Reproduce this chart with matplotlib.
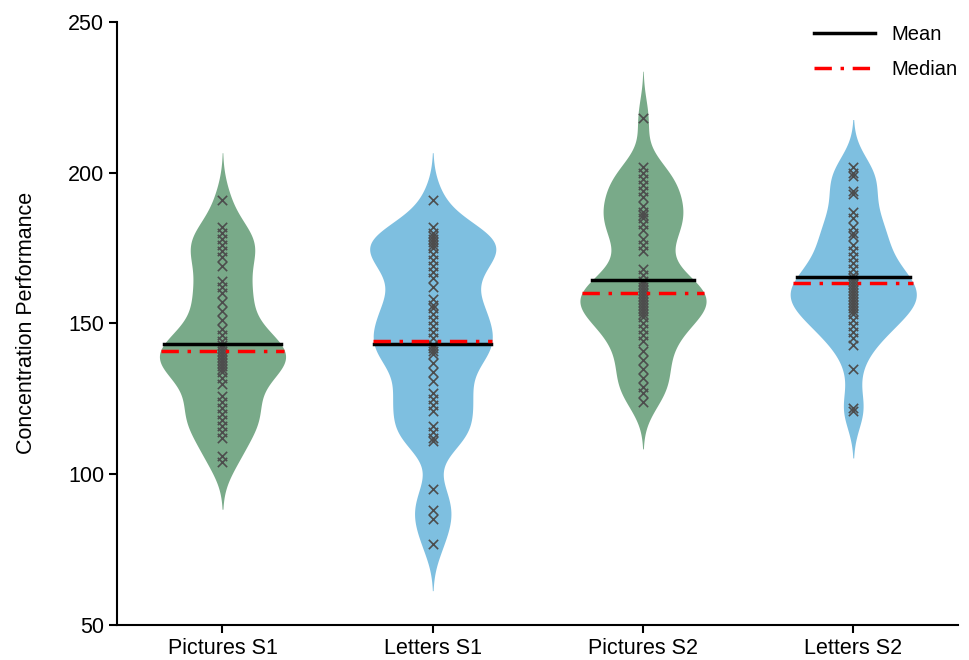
import numpy as np
import matplotlib
matplotlib.use("Agg")
import matplotlib.pyplot as plt
from matplotlib.lines import Line2D

plt.rcParams['font.family'] = ['Liberation Sans', 'DejaVu Sans']

labels = ['Pictures S1', 'Letters S1', 'Pictures S2', 'Letters S2']
pictures_s1 = [191, 182, 180, 178, 176, 174, 172, 169, 164, 162, 160, 157, 154, 151,
               148, 146, 144, 143, 142, 141, 140, 139, 138, 137, 136, 135, 134, 132,
               130, 126, 124, 122, 120, 118, 116, 114, 112, 106, 104]
letters_s1 = [191, 182, 180, 179, 178, 177, 176, 175, 173, 171, 169, 167, 165, 162,
              158, 156, 155, 153, 151, 149, 147, 145, 143, 142, 141, 140, 137, 134,
              131, 127, 125, 123, 121, 116, 114, 112, 111, 95, 88, 85, 77]
pictures_s2 = [218, 202, 200, 198, 196, 194, 192, 189, 187, 186, 185, 183, 181, 178,
               176, 174, 168, 166, 164, 163, 162, 161, 160, 159, 158, 157, 156, 155,
               154, 153, 152, 150, 148, 146, 144, 141, 138, 135, 132, 129, 127, 124]
letters_s2 = [202, 200, 199, 194, 193, 187, 185, 182, 180, 179, 176, 174, 172, 170,
              168, 166, 165, 164, 163, 162, 161, 160, 159, 158, 157, 156, 155, 154,
              153, 151, 149, 147, 145, 143, 135, 122, 121]
means = [143.2, 143.2, 164.4, 165.3]
medians = [141.0, 144.3, 160.2, 163.5]

groups = [pictures_s1, letters_s1, pictures_s2, letters_s2]
colors = ['#79aa89', '#7ebfe0', '#79aa89', '#7ebfe0']

fig = plt.figure(figsize=(9.7, 6.6), dpi=100)
ax = fig.add_axes([0.121, 0.053, 0.867, 0.914])

bw = 6.5
cut = 2.4
halfw = 0.3
for i, d in enumerate(groups):
    d = np.array(d, dtype=float)
    pos = i + 1
    y = np.linspace(d.min() - cut * bw, d.max() + cut * bw, 400)
    dens = np.exp(-0.5 * ((y[:, None] - d[None, :]) / bw) ** 2).sum(axis=1)
    w = dens / dens.max() * halfw
    ax.fill_betweenx(y, pos - w, pos + w, color=colors[i], lw=0, zorder=1)
    ax.scatter(np.full(len(d), pos), d, marker='x', s=45, color='#4d4d4d',
               linewidths=1.2, zorder=2)
    wm = np.interp(means[i], y, w)
    ax.plot([pos - wm, pos + wm], [means[i]] * 2, color='black', lw=2.5, zorder=3)
    wd = np.interp(medians[i], y, w)
    ax.plot([pos - wd, pos + wd], [medians[i]] * 2, color='red', lw=2.5,
            ls=(0, (5, 2.5, 1, 2.5)), zorder=4)

ax.set_xlim(0.5, 4.5)
ax.set_ylim(50, 250)
ax.set_yticks([50, 100, 150, 200, 250])
ax.set_xticks([1, 2, 3, 4])
ax.set_xticklabels(labels)
ax.tick_params(labelsize=15.5, width=1.5, length=6)
ax.set_ylabel('Concentration Performance', fontsize=15.5, labelpad=22)
for s in ['top', 'right']:
    ax.spines[s].set_visible(False)
for s in ['left', 'bottom']:
    ax.spines[s].set_linewidth(1.5)

handles = [Line2D([], [], color='black', lw=2.5),
           Line2D([], [], color='red', lw=2.5, ls=(0, (5, 2.5, 1, 2.5)))]
ax.legend(handles, ['Mean', 'Median'], loc='upper right', frameon=False,
          fontsize=14.5, handlelength=3.0, labelspacing=0.8,
          bbox_to_anchor=(1.02, 1.025))

fig.savefig('out.png', dpi=100)
